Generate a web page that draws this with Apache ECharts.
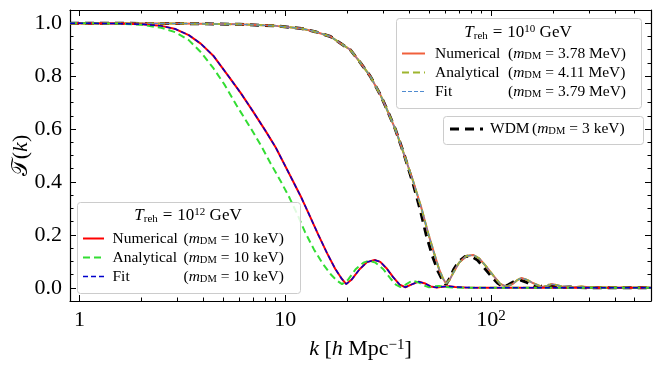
<!DOCTYPE html>
<html>
<head>
<meta charset="utf-8">
<script src="https://cdn.jsdelivr.net/npm/echarts@6/dist/echarts.min.js"></script>
<style>
  html, body { margin: 0; padding: 0; background: #fff; }
  #chart { width: 661px; height: 368px; }
</style>
</head>
<body>
<div id="chart"></div>
<script>
// T_reh = 10^12 GeV, m_DM = 10 keV
const kNumA = [0.9, 1.5, 2, 2.5, 2.93, 3.4, 3.9, 4.5, 5.3, 6.1, 7, 8, 9, 10.8, 12, 13.2, 14.5, 16, 17.5, 18.8, 19.8, 21, 23, 25, 27.2, 29, 31, 33.5, 36, 38.4, 41, 44.6, 48, 51, 54.5, 58, 62.3, 67, 75, 90, 150, 300, 600]
const tNumA = [1.0, 0.999, 0.996, 0.99, 0.978, 0.955, 0.922, 0.875, 0.80, 0.735, 0.665, 0.595, 0.53, 0.41, 0.34, 0.27, 0.2, 0.13, 0.072, 0.035, 0.014, 0.03, 0.07, 0.097, 0.105, 0.098, 0.075, 0.04, 0.012, 0.002, 0.012, 0.023, 0.016, 0.005, 0.001, 0.004, 0.006, 0.003, 0.001, 0.0, 0.0, 0.0, 0.0]
const tFitA = [1.0, 0.999, 0.996, 0.99, 0.978, 0.955, 0.922, 0.875, 0.80, 0.735, 0.665, 0.595, 0.53, 0.41, 0.34, 0.27, 0.2, 0.13, 0.072, 0.035, 0.014, 0.03, 0.07, 0.097, 0.105, 0.098, 0.075, 0.04, 0.012, 0.002, 0.012, 0.023, 0.016, 0.005, 0.001, 0.004, 0.006, 0.003, 0.001, 0.0, 0.0, 0.0, 0.0]
const kAnaA = [0.9, 1.5, 2, 2.5, 2.93, 3.4, 3.9, 4.48, 5.1, 5.8, 6.78, 7.6, 8.5, 9.48, 10.5, 11.5, 12.5, 13.8, 15.2, 16.6, 17.8, 18.9, 20.2, 22, 24, 25.5, 27.5, 30, 32.5, 34.5, 36.2, 38.5, 41.4, 44.5, 47.5, 50, 53, 56, 60, 65, 75, 150, 600]
const tAnaA = [1.0, 0.999, 0.994, 0.983, 0.966, 0.936, 0.89, 0.83, 0.765, 0.69, 0.605, 0.54, 0.47, 0.405, 0.34, 0.275, 0.21, 0.145, 0.092, 0.052, 0.028, 0.014, 0.03, 0.07, 0.095, 0.102, 0.095, 0.07, 0.035, 0.012, 0.003, 0.012, 0.027, 0.02, 0.008, 0.002, 0.005, 0.007, 0.003, 0.001, 0.0, 0.0, 0.0]

// T_reh = 10^10 GeV, m_DM ~ 3.8 MeV
const kNumB = [0.9, 3, 6, 9, 12, 14, 16.6, 18.5, 20.7, 23, 25.9, 29, 31, 34.3, 38, 42, 46, 49.6, 53, 56, 58.5, 60.5, 63, 66, 70, 76, 82, 88, 95, 103, 111, 119.5, 128, 135, 141, 150, 160, 177, 188, 197, 210, 225, 256, 275, 300, 350, 600]
const tNumB = [1.0, 0.999, 0.996, 0.99, 0.98, 0.968, 0.95, 0.925, 0.9, 0.855, 0.8, 0.73, 0.68, 0.6, 0.5, 0.4, 0.3, 0.205, 0.13, 0.07, 0.035, 0.016, 0.03, 0.06, 0.095, 0.12, 0.124, 0.11, 0.08, 0.045, 0.015, 0.004, 0.015, 0.03, 0.037, 0.03, 0.018, 0.003, 0.008, 0.014, 0.01, 0.003, 0.002, 0.005, 0.002, 0.001, 0.0]
const tAnaB = [1.0, 0.999, 0.996, 0.99, 0.98, 0.968, 0.95, 0.925, 0.9, 0.855, 0.8, 0.73, 0.68, 0.6, 0.5, 0.4, 0.3, 0.205, 0.13, 0.07, 0.035, 0.016, 0.03, 0.06, 0.095, 0.12, 0.124, 0.11, 0.08, 0.045, 0.015, 0.004, 0.015, 0.03, 0.037, 0.03, 0.018, 0.003, 0.008, 0.014, 0.01, 0.003, 0.002, 0.005, 0.002, 0.001, 0.0]
const tFitB = [1.0, 0.999, 0.996, 0.99, 0.98, 0.968, 0.95, 0.925, 0.9, 0.855, 0.8, 0.73, 0.68, 0.6, 0.5, 0.4, 0.3, 0.205, 0.13, 0.07, 0.035, 0.016, 0.03, 0.06, 0.095, 0.12, 0.124, 0.11, 0.08, 0.045, 0.015, 0.004, 0.015, 0.03, 0.037, 0.03, 0.018, 0.003, 0.008, 0.014, 0.01, 0.003, 0.002, 0.005, 0.002, 0.001, 0.0]

// WDM, m_DM = 3 keV
const kWdm = [0.9, 3, 6, 9, 12, 14, 16.6, 18.5, 20.7, 23, 25.9, 29, 31, 34.3, 38, 42, 45.5, 48.5, 52, 55.5, 58.5, 60.5, 63, 66, 70, 75, 80, 86, 93, 100, 108, 115, 122, 130, 139, 148, 158, 167, 176, 187, 198, 215, 240, 270, 320, 600]
const tWdm = [1.0, 0.999, 0.996, 0.99, 0.98, 0.968, 0.95, 0.925, 0.9, 0.855, 0.8, 0.73, 0.68, 0.6, 0.5, 0.39, 0.29, 0.2, 0.12, 0.06, 0.025, 0.012, 0.035, 0.07, 0.1, 0.118, 0.12, 0.105, 0.075, 0.045, 0.017, 0.003, 0.012, 0.024, 0.029, 0.022, 0.01, 0.002, 0.006, 0.011, 0.007, 0.001, 0.003, 0.001, 0.0, 0.0]

const xMajor = [1, 10, 100]
const xMinor = [2, 3, 4, 5, 6, 7, 8, 9, 20, 30, 40, 50, 60, 70, 80, 90, 200, 300, 400, 500]
const yMajor = [0, 0.2, 0.4, 0.6, 0.8, 1.0]
const yMinor = [0.05, 0.1, 0.15, 0.25, 0.3, 0.35, 0.45, 0.5, 0.55, 0.65, 0.7, 0.75, 0.85, 0.9, 0.95]

const serif = 'Liberation Serif'
const pairs = (ks, ts) => ks.map((k, i) => [k, ts[i]])

// series styles (shared by the plot and the legend samples)
const styles = {
  wdm: { color: '#000000', width: 3, dash: [9, 6] },
  numB: { color: '#f0603c', width: 2, dash: null },
  anaB: { color: '#9eb52e', width: 2, dash: [7, 4] },
  fitB: { color: '#4f8bd0', width: 1, dash: [4, 2] },
  numA: { color: '#ff0000', width: 2, dash: null },
  anaA: { color: '#33dd33', width: 2, dash: [7, 4] },
  fitA: { color: '#0000cc', width: 1.5, dash: [5, 3] }
}

function xAxisCfg(pos, ticks, len, showLine, showLabel) {
  return {
    type: 'log', min: 0.9, max: 600, position: pos,
    axisLine: { show: showLine, onZero: false, lineStyle: { color: '#000', width: 1.2 } },
    axisTick: { inside: true, length: len, customValues: ticks, lineStyle: { color: '#000', width: 1 } },
    axisLabel: showLabel ? {
      customValues: ticks, margin: 8, color: '#000', fontFamily: serif, fontSize: 22,
      formatter: v => (v >= 100 ? '10{sup|' + Math.round(Math.log10(v)) + '}' : String(v)),
      rich: { sup: { fontSize: 15, verticalAlign: 'top', lineHeight: 12, fontFamily: serif, color: '#000' } }
    } : { show: false },
    splitLine: { show: false },
    name: showLabel ? '{i|k} [{i|h} Mpc{sup|\u22121}]' : '',
    nameLocation: 'middle', nameGap: 37, nameMoveOverlap: false,
    nameTextStyle: {
      fontFamily: serif, fontSize: 22, color: '#000',
      rich: {
        i: { fontFamily: serif, fontStyle: 'italic', fontSize: 22, color: '#000' },
        sup: { fontFamily: serif, fontSize: 15, verticalAlign: 'top', lineHeight: 12, color: '#000' }
      }
    }
  }
}

function yAxisCfg(pos, ticks, len, showLine, showLabel) {
  return {
    type: 'value', min: -0.05, max: 1.05, position: pos,
    axisLine: { show: showLine, onZero: false, lineStyle: { color: '#000', width: 1.2 } },
    axisTick: { inside: true, length: len, customValues: ticks, lineStyle: { color: '#000', width: 1 } },
    axisLabel: showLabel ? {
      customValues: ticks, margin: 8, color: '#000', fontFamily: serif, fontSize: 22,
      formatter: v => v.toFixed(1)
    } : { show: false },
    splitLine: { show: false },
    name: showLabel ? '\ud835\udcaf({i|k})' : '',
    nameLocation: 'middle', nameGap: 38, nameRotate: 90, nameMoveOverlap: false,
    nameTextStyle: {
      fontFamily: serif, fontSize: 22, color: '#000',
      rich: { i: { fontFamily: serif, fontStyle: 'italic', fontSize: 22, color: '#000' } }
    }
  }
}

function line(key, data, z) {
  const s = styles[key]
  return {
    name: key, type: 'line', data: data, showSymbol: false, symbol: 'none',
    smooth: false, z: z,
    lineStyle: { color: s.color, width: s.width, type: s.dash || 'solid' },
    itemStyle: { color: s.color }
  }
}

// legend pieces
const txt = { fontFamily: serif, fontSize: 15.5, fill: '#000' }
const rich = {
  p: Object.assign({}, txt),
  e: Object.assign({ padding: [0, 4, 0, 4] }, txt),
  m: Object.assign({ fontStyle: 'italic' }, txt),
  s: { fontFamily: serif, fontSize: 10.5, fill: '#000', verticalAlign: 'bottom', lineHeight: 9 }
}

function box(x, y, w, h) {
  return {
    type: 'rect', z: 15, shape: { x: x, y: y, width: w, height: h, r: 3 },
    style: { fill: 'rgba(255,255,255,0.85)', stroke: '#cccccc', lineWidth: 1 }
  }
}

function sample(key, x1, x2, y) {
  const s = styles[key]
  return {
    type: 'line', z: 16, shape: { x1: x1, y1: y, x2: x2, y2: y },
    style: { stroke: s.color, lineWidth: s.width, lineDash: s.dash || null }
  }
}

function label(x, y, name, nameWidth, mass) {
  return {
    type: 'text', z: 16, x: x, y: y,
    style: {
      text: '{n|' + name + '}{p|(}{m|m}{s|DM}{e|=}{p|' + mass + ')}',
      verticalAlign: 'middle',
      rich: Object.assign({ n: Object.assign({ width: nameWidth }, txt) }, rich)
    }
  }
}

function title(x, y, exp) {
  return {
    type: 'text', z: 16, x: x, y: y,
    style: {
      text: '{i|T}{s|reh}{e|=}{p|10}{u|' + exp + '}{p| GeV}',
      align: 'center', verticalAlign: 'middle',
      rich: {
        i: { fontFamily: serif, fontSize: 17, fontStyle: 'italic', fill: '#000', lineHeight: 18 },
        p: { fontFamily: serif, fontSize: 17, fill: '#000', lineHeight: 18 },
        e: { fontFamily: serif, fontSize: 17, fill: '#000', lineHeight: 18, padding: [0, 5, 0, 5] },
        s: { fontFamily: serif, fontSize: 11, fill: '#000', verticalAlign: 'bottom', lineHeight: 9 },
        u: { fontFamily: serif, fontSize: 11, fill: '#000', verticalAlign: 'top', lineHeight: 10 }
      }
    }
  }
}

const chart = echarts.init(document.getElementById('chart'))
chart.setOption({
  animation: false,
  backgroundColor: '#fff',
  grid: { left: 70, right: 10, top: 10, bottom: 67, containLabel: false, outerBoundsMode: 'none' },
  xAxis: [
    xAxisCfg('bottom', xMajor, 6, true, true),
    xAxisCfg('bottom', xMinor, 3.5, false, false),
    xAxisCfg('top', xMajor, 6, true, false),
    xAxisCfg('top', xMinor, 3.5, false, false)
  ],
  yAxis: [
    yAxisCfg('left', yMajor, 6, true, true),
    yAxisCfg('left', yMinor, 3.5, false, false),
    yAxisCfg('right', yMajor, 6, true, false),
    yAxisCfg('right', yMinor, 3.5, false, false)
  ],
  graphic: [
    // T_reh = 10^10 GeV
    box(396.5, 18.5, 245, 90),
    title(518, 33, '10'),
    sample('numB', 402, 425, 53.5), label(435, 53.5, 'Numerical', 73, '3.78 MeV'),
    sample('anaB', 402, 425, 72.5), label(435, 72.5, 'Analytical', 73, '4.11 MeV'),
    sample('fitB', 402, 425, 91.5), label(435, 91.5, 'Fit', 73, '3.79 MeV'),
    // WDM
    box(443.5, 116.5, 200, 28),
    sample('wdm', 450, 483, 129), label(490, 129, 'WDM', 42, '3 keV'),
    // T_reh = 10^12 GeV
    box(77.5, 202.5, 223, 91),
    title(188, 216, '12'),
    sample('numA', 83, 104, 238.5), label(112.5, 238.5, 'Numerical', 71, '10 keV'),
    sample('anaA', 83, 104, 257.5), label(112.5, 257.5, 'Analytical', 71, '10 keV'),
    sample('fitA', 83, 104, 276.5), label(112.5, 276.5, 'Fit', 71, '10 keV')
  ],
  series: [
    line('wdm', pairs(kWdm, tWdm), 2),
    line('numB', pairs(kNumB, tNumB), 3),
    line('anaB', pairs(kNumB, tAnaB), 4),
    line('fitB', pairs(kNumB, tFitB), 5),
    line('numA', pairs(kNumA, tNumA), 6),
    line('anaA', pairs(kAnaA, tAnaA), 7),
    line('fitA', pairs(kNumA, tFitA), 8)
  ]
})
</script>
</body>
</html>
